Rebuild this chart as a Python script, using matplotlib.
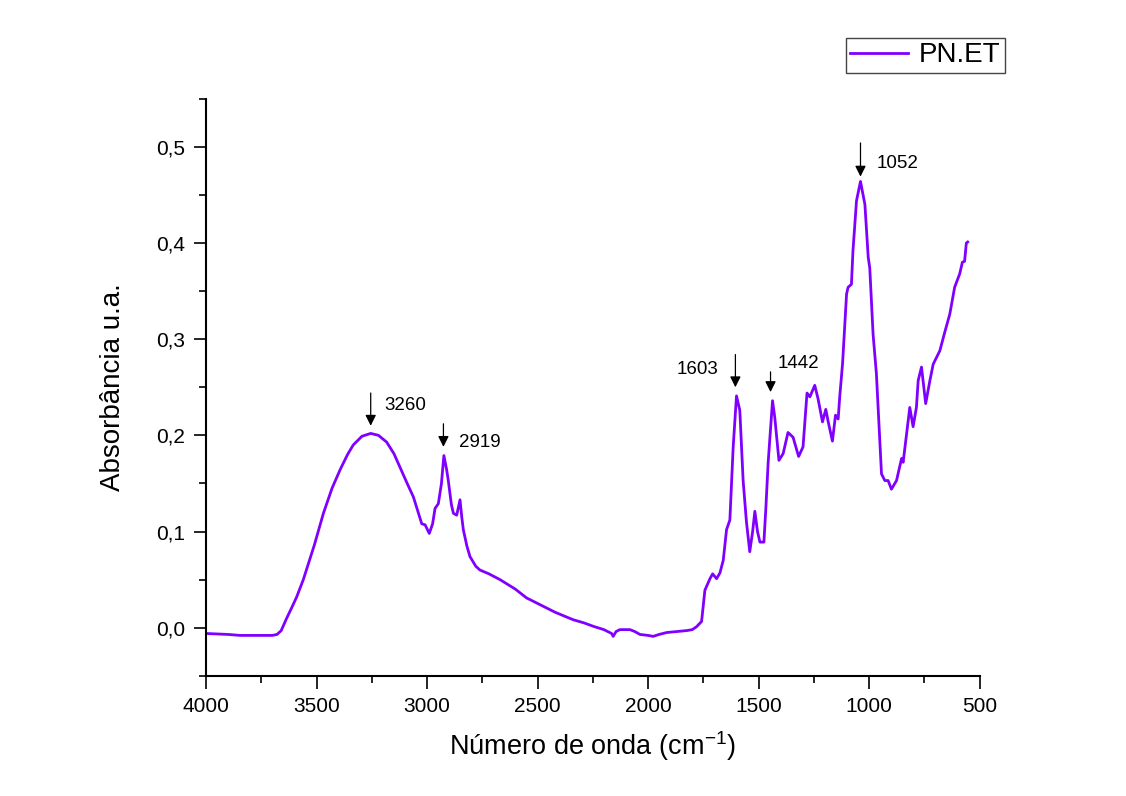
import matplotlib
matplotlib.use('Agg')
import matplotlib.pyplot as plt
from matplotlib.ticker import MultipleLocator, FuncFormatter

plt.rcParams['font.family'] = ['Liberation Sans', 'DejaVu Sans']
plt.rcParams['mathtext.fontset'] = 'custom'
plt.rcParams['mathtext.rm'] = 'Liberation Sans'

# espectro FTIR
wavenumber = [4000, 3900, 3846, 3760, 3700, 3679, 3660, 3635, 3610, 3590, 3560, 3510, 3469, 3430,
              3394, 3360, 3334, 3295, 3255, 3220, 3183, 3150, 3123, 3090, 3062, 3040, 3024, 3009,
              2990, 2975, 2964, 2949, 2935, 2924, 2912, 2904, 2890, 2881, 2866, 2851, 2843, 2836,
              2820, 2806, 2780, 2761, 2720, 2670, 2600, 2550, 2489, 2420, 2339, 2290, 2247, 2200,
              2165, 2158, 2145, 2128, 2100, 2082, 2060, 2037, 2000, 1977, 1950, 1916, 1870, 1826,
              1800, 1781, 1758, 1743, 1720, 1708, 1690, 1675, 1660, 1645, 1630, 1615, 1600, 1585,
              1570, 1555, 1540, 1527, 1517, 1505, 1494, 1476, 1467, 1457, 1437, 1427, 1408, 1389,
              1367, 1344, 1319, 1299, 1281, 1268, 1246, 1231, 1211, 1196, 1185, 1166, 1152, 1140,
              1133, 1120, 1102, 1095, 1080, 1073, 1057, 1039, 1019, 1004, 997, 982, 967, 944,
              929, 914, 899, 876, 853, 846, 816, 801, 786, 778, 763, 744, 725, 710, 680, 658,
              635, 613, 590, 578, 568, 560, 554]
absorbance = [-0.006, -0.007, -0.008, -0.008, -0.008, -0.007, -0.003, 0.010, 0.022, 0.032, 0.050,
              0.086, 0.119, 0.145, 0.164, 0.180, 0.190, 0.199, 0.202, 0.200, 0.193, 0.181, 0.167,
              0.150, 0.136, 0.120, 0.108, 0.107, 0.098, 0.108, 0.124, 0.129, 0.150, 0.179, 0.165,
              0.153, 0.128, 0.119, 0.117, 0.133, 0.115, 0.102, 0.085, 0.074, 0.064, 0.060, 0.056,
              0.050, 0.040, 0.031, 0.024, 0.016, 0.0083, 0.005, 0.0014, -0.002, -0.006, -0.009,
              -0.004, -0.002, -0.002, -0.002, -0.004, -0.007, -0.008, -0.009, -0.007, -0.005,
              -0.004, -0.003, -0.002, 0.001, 0.0065, 0.039, 0.051, 0.056, 0.051, 0.057, 0.070,
              0.102, 0.112, 0.188, 0.241, 0.226, 0.153, 0.110, 0.079, 0.100, 0.121, 0.100, 0.089,
              0.089, 0.125, 0.171, 0.236, 0.219, 0.174, 0.181, 0.203, 0.198, 0.178, 0.188, 0.244,
              0.240, 0.252, 0.238, 0.214, 0.227, 0.214, 0.194, 0.221, 0.217, 0.240, 0.275, 0.347,
              0.354, 0.357, 0.392, 0.444, 0.464, 0.440, 0.385, 0.374, 0.305, 0.264, 0.160, 0.153,
              0.153, 0.144, 0.153, 0.176, 0.172, 0.229, 0.209, 0.229, 0.257, 0.271, 0.233, 0.257,
              0.274, 0.288, 0.307, 0.326, 0.354, 0.368, 0.380, 0.381, 0.400, 0.401]

# picos marcados
peak_labels = ['3260', '2919', '1603', '1442', '1052']
peak_x = [3255, 2926, 1605, 1446, 1039]
arrow_tip = [0.210, 0.188, 0.250, 0.245, 0.469]
arrow_top = [0.244, 0.212, 0.284, 0.266, 0.504]
label_x = [3195, 2856, 1680, 1413, 965]
label_y = [0.231, 0.193, 0.268, 0.275, 0.483]
label_ha = ['left', 'left', 'right', 'left', 'left']

fig = plt.figure(figsize=(11.26, 7.96), dpi=100)
ax = fig.add_axes([0.183, 0.151, 0.687, 0.725])

ax.plot(wavenumber, absorbance, color='#8000ff', lw=2, label='PN.ET')

for lab, x, tip, top, tx, ty, ha in zip(peak_labels, peak_x, arrow_tip, arrow_top, label_x, label_y, label_ha):
    ax.annotate('', xy=(x, tip), xytext=(x, top),
                arrowprops=dict(arrowstyle='-|>', color='black', lw=0.9, mutation_scale=16,
                                shrinkA=0, shrinkB=0))
    ax.text(tx, ty, lab, ha=ha, va='center', fontsize=13.5)

ax.set_xlim(4000, 500)
ax.set_ylim(-0.05, 0.55)
ax.xaxis.set_major_locator(MultipleLocator(500))
ax.xaxis.set_minor_locator(MultipleLocator(250))
ax.yaxis.set_major_locator(MultipleLocator(0.1))
ax.yaxis.set_minor_locator(MultipleLocator(0.05))
ax.yaxis.set_major_formatter(FuncFormatter(lambda v, p: f'{v:.1f}'.replace('.', ',').replace('-0,0', '0,0')))

for s in ['top', 'right']:
    ax.spines[s].set_visible(False)
for s in ['left', 'bottom']:
    ax.spines[s].set_linewidth(1.5)
ax.tick_params(which='major', direction='out', length=9, width=1.2, labelsize=15, pad=6)
ax.tick_params(which='minor', direction='out', length=5, width=1.2)

ax.set_xlabel('Número de onda (cm$^{\\mathregular{-1}}$)', fontsize=19.5, labelpad=10)
ax.set_ylabel('Absorbância u.a.', fontsize=20, labelpad=22)

fig.legend(loc='upper right', bbox_to_anchor=(0.8925, 0.952), borderaxespad=0,
           fontsize=20, handlelength=2.1, fancybox=False, edgecolor='#444444',
           framealpha=1, borderpad=0.15, handletextpad=0.4)

fig.savefig('out.png', dpi=100)
